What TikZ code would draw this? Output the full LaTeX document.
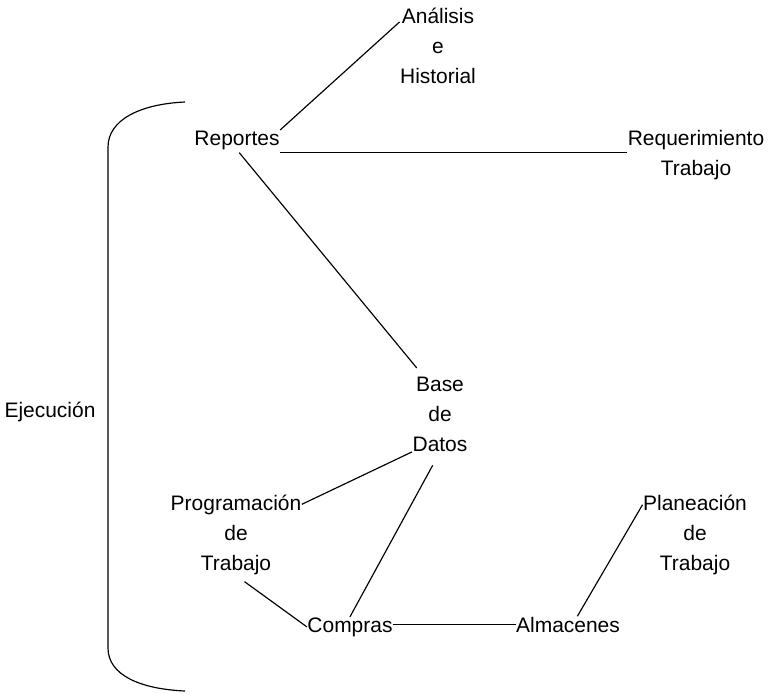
\documentclass[tikz,border=0pt]{standalone}
\usepackage{fontspec}
\setmainfont{Liberation Sans}
\begin{document}
\begin{tikzpicture}[x=0.03cm, y=-0.03cm, line width=1pt,
    txt/.style={inner sep=0pt, align=center, font=\fontsize{17.9}{25.6}\selectfont}]
    \useasboundingbox (0,0) rectangle (768,693);

    \node[txt, anchor=base] (ejec) at (50,417) {Ejecución};
    \node[txt, anchor=base] (rep) at (237,145) {Reportes};
    \node[txt] (ana) at (438,46) {Análisis\\e\\Historial};
    \node[txt] (req) at (696,155) {Requerimiento\\Trabajo};
    \node[txt] (base) at (440,414) {Base\\de\\Datos};
    \node[txt] (prog) at (236,535) {Programación\\de\\Trabajo};
    \node[txt, anchor=base] (comp) at (350,632) {Compras};
    \node[txt, anchor=base] (alm) at (568,632) {Almacenes};
    \node[txt] (plan) at (695,535) {Planeación\\de\\Trabajo};

    % llave
    \draw (185,102) .. controls (140,104) and (108,120) .. (108,147) -- (108,648)
        .. controls (108,675) and (140,689) .. (185,691);

    \draw (rep.north east) -- (ana.148);
    \draw ([yshift=2pt]rep.south east |- req.west) -- ([yshift=2pt]req.west);
    \draw[shorten <=3pt] (rep.south) -- ([xshift=4pt,yshift=7pt]base.north west);
    \draw (base.south west) -- (prog.25);
    \draw[shorten <=13pt] (base.south) -- (comp.north);
    \draw[shorten <=9pt] (prog.south) -- (comp.west);
    \draw (comp.east |- alm.west) -- (alm.west);
    \draw ([xshift=8pt]alm.north) -- (plan.150);
\end{tikzpicture}
\end{document}
